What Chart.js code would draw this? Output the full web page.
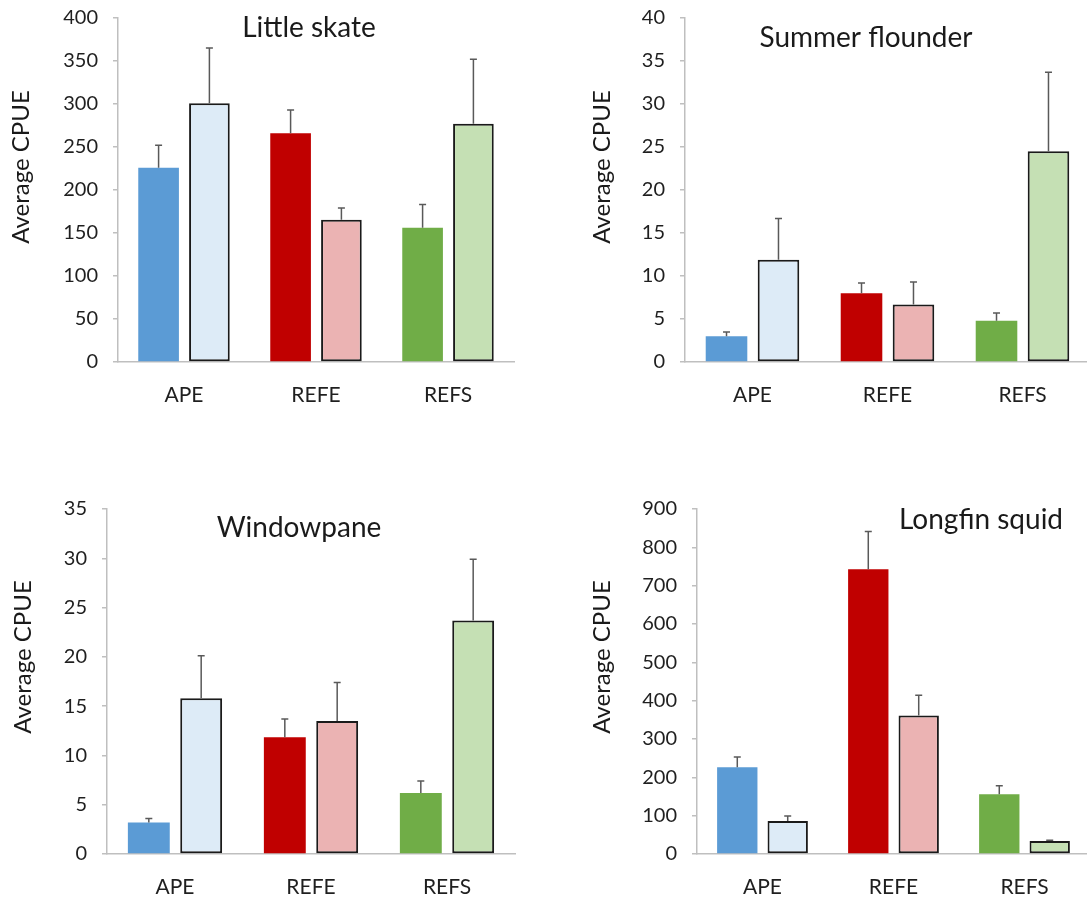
<!DOCTYPE html>
<html>
<head>
<meta charset="utf-8">
<script src="https://cdn.jsdelivr.net/npm/chart.js@4.4.0/dist/chart.umd.min.js"></script>
<style>
  html, body { margin: 0; padding: 0; background: #fff; overflow: hidden; }
  #page { position: relative; width: 1087px; height: 898px; }
  .panel { position: absolute; }
</style>
</head>
<body>
<div id="page">
  <canvas class="panel" id="skate" width="540" height="440" style="left:0;top:0"></canvas>
  <canvas class="panel" id="flounder" width="535" height="440" style="left:560px;top:0"></canvas>
  <canvas class="panel" id="windowpane" width="540" height="428" style="left:0;top:470px"></canvas>
  <canvas class="panel" id="squid" width="535" height="428" style="left:560px;top:470px"></canvas>
</div>
<script>
const categories = ['APE', 'REFE', 'REFS'];

// first bar of each pair (solid) and second bar (pale, outlined), with upper SE
const skateDark = [226, 266, 156];
const skateDarkSE = [26, 27, 27];
const skateLight = [301, 165.5, 277];
const skateLightSE = [64, 13.5, 75];

const flounderDark = [3.0, 8.0, 4.8];
const flounderDarkSE = [0.5, 1.2, 0.9];
const flounderLight = [11.9, 6.7, 24.5];
const flounderLightSE = [4.8, 2.6, 9.2];

const windowDark = [3.2, 11.85, 6.2];
const windowDarkSE = [0.4, 1.85, 1.2];
const windowLight = [15.8, 13.5, 23.7];
const windowLightSE = [4.3, 3.9, 6.2];

const squidDark = [226, 743, 156];
const squidDarkSE = [27, 98, 22];
const squidLight = [86, 361, 34];
const squidLightSE = [13, 53, 2];

const darkColors = ['#5B9BD5', '#C00000', '#70AD47'];
const lightColors = ['#DDEBF7', '#EBB3B3', '#C5E0B4'];

const FONT = 'Lato';
const axisGray = '#bfbfbf';

// draws the upper error whiskers from each bar top
const errorBars = {
  id: 'errorBars',
  afterDatasetsDraw(chart) {
    const ctx = chart.ctx;
    const y = chart.scales.y;
    chart.data.datasets.forEach((ds, i) => {
      if (!ds.errors) return;
      chart.getDatasetMeta(i).data.forEach((bar, j) => {
        const top = y.getPixelForValue(ds.data[j] + ds.errors[j]);
        ctx.save();
        ctx.strokeStyle = '#595959';
        ctx.lineWidth = 1.5;
        ctx.beginPath();
        ctx.moveTo(bar.x, bar.y);
        ctx.lineTo(bar.x, top);
        ctx.moveTo(bar.x - 3.5, top);
        ctx.lineTo(bar.x + 3.5, top);
        ctx.stroke();
        ctx.restore();
      });
    });
  }
};

// species name inside the plot and the y axis title
const panelText = {
  id: 'panelText',
  afterDraw(chart, args, opts) {
    const ctx = chart.ctx;
    ctx.save();
    ctx.fillStyle = '#1a1a1a';
    ctx.textAlign = 'center';
    ctx.textBaseline = 'alphabetic';
    ctx.font = '28px ' + FONT;
    ctx.fillText(opts.title, opts.titleX, opts.titleY);
    ctx.translate(opts.axisX, opts.axisY);
    ctx.rotate(-Math.PI / 2);
    ctx.font = '24px ' + FONT;
    ctx.fillText('Average CPUE', 0, 0);
    ctx.restore();
  }
};

function makePanel(id, p) {
  return new Chart(document.getElementById(id), {
    type: 'bar',
    data: {
      labels: categories,
      datasets: [
        { label: 'Series 1', data: p.dark, errors: p.darkSE, backgroundColor: darkColors, borderWidth: 0 },
        { label: 'Series 2', data: p.light, errors: p.lightSE, backgroundColor: lightColors,
          borderColor: '#1a1a1a', borderWidth: 2, borderSkipped: false }
      ]
    },
    options: {
      responsive: false,
      animation: false,
      devicePixelRatio: 1,
      datasets: { bar: { categoryPercentage: 0.77, barPercentage: 0.8 } },
      layout: { padding: p.padding },
      plugins: {
        legend: { display: false },
        tooltip: { enabled: false },
        panelText: p.text
      },
      scales: {
        x: {
          grid: { display: false, drawTicks: false },
          border: { color: axisGray, width: 1.5 },
          ticks: { color: '#1f1f1f', padding: 21, font: { family: FONT, size: 21 } },
          afterFit: (s) => { s.height = p.xHeight; }
        },
        y: {
          min: 0,
          max: p.max,
          grid: { drawOnChartArea: false, tickLength: 5, color: axisGray, lineWidth: 1.5 },
          border: { color: axisGray, width: 1.5 },
          ticks: { stepSize: p.step, color: '#1f1f1f', padding: 15, font: { family: FONT, size: 20 } },
          afterFit: (s) => {
            s.width = p.yWidth;
            s.paddingTop = 8;
            s.paddingBottom = 8;
          }
        }
      }
    },
    plugins: [errorBars, panelText]
  });
}

makePanel('skate', {
  dark: skateDark, darkSE: skateDarkSE, light: skateLight, lightSE: skateLightSE,
  max: 400, step: 50, yWidth: 118, xHeight: 60,
  padding: { top: 18, right: 26, bottom: 18, left: 0 },
  text: { title: 'Little skate', titleX: 309, titleY: 37, axisX: 29, axisY: 167 }
});

makePanel('flounder', {
  dark: flounderDark, darkSE: flounderDarkSE, light: flounderLight, lightSE: flounderLightSE,
  max: 40, step: 5, yWidth: 125, xHeight: 60,
  padding: { top: 18, right: 5, bottom: 18, left: 0 },
  text: { title: 'Summer flounder', titleX: 306, titleY: 47, axisX: 50, axisY: 167 }
});

makePanel('windowpane', {
  dark: windowDark, darkSE: windowDarkSE, light: windowLight, lightSE: windowLightSE,
  max: 35, step: 5, yWidth: 107, xHeight: 44,
  padding: { top: 39, right: 25, bottom: 0, left: 0 },
  text: { title: 'Windowpane', titleX: 299, titleY: 67, axisX: 31, axisY: 187 }
});

makePanel('squid', {
  dark: squidDark, darkSE: squidDarkSE, light: squidLight, lightSE: squidLightSE,
  max: 900, step: 100, yWidth: 137, xHeight: 44,
  padding: { top: 39, right: 5, bottom: 0, left: 0 },
  text: { title: 'Longfin squid', titleX: 421, titleY: 59, axisX: 50, axisY: 187 }
});
</script>
</body>
</html>
